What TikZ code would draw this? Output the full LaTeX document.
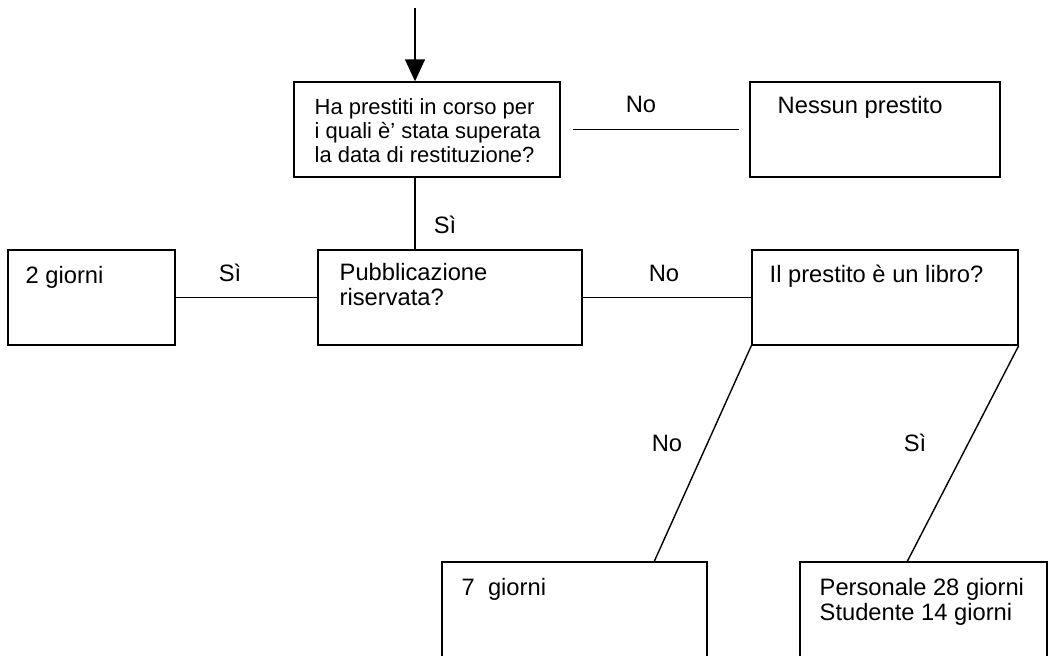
\documentclass[tikz,border=0pt]{standalone}
\usepackage{fontspec}
\setmainfont{Liberation Sans}
\usepackage{tikz}
\usetikzlibrary{arrows.meta, positioning, calc}
\tikzset{
    % Node styles - plain boxes, text top left
    choicebox/.style={
        rectangle,
        draw=black,
        line width=0.8pt,
        inner sep=0pt
    },
    boxtext/.style={
        anchor=north west,
        inner sep=0pt,
        align=left,
        font=\fontsize{13.5}{14.2}\selectfont
    },
    smalltext/.style={
        anchor=north west,
        inner sep=0pt,
        align=left,
        font=\fontsize{12.5}{13.6}\selectfont
    },
    answer/.style={
        inner sep=0pt,
        font=\fontsize{13.5}{14.2}\selectfont
    },
    % Connector styles
    myline/.style={
        draw=black,
        line width=0.8pt
    },
    myarrow/.style={
        -{Triangle[width=0.4cm,length=0.44cm]},
        line width=0.8pt
    }
}

\begin{document}
\begin{tikzpicture}[x=0.02cm, y=-0.02cm]
    \useasboundingbox (0,0) rectangle (1053,655);
    \clip (0,0) rectangle (1053,655);

    % Boxes
    \node[choicebox, minimum width=5.32cm, minimum height=1.9cm] (overdue) at (427,129.5) {};
    \node[choicebox, minimum width=5.0cm, minimum height=1.9cm] (noloan) at (875,129.5) {};
    \node[choicebox, minimum width=3.34cm, minimum height=1.9cm] (twodays) at (91.5,297.5) {};
    \node[choicebox, minimum width=5.28cm, minimum height=1.9cm] (reserved) at (450,297.5) {};
    \node[choicebox, minimum width=5.32cm, minimum height=1.9cm] (isbook) at (885,297.5) {};
    \node[choicebox, minimum width=5.3cm, minimum height=2.36cm] (sevendays) at (574.5,621) {};
    \node[choicebox, minimum width=4.94cm, minimum height=2.36cm] (bookdays) at (923.5,621) {};

    % Box texts
    \node[smalltext] (overduetxt) at ([shift={(21,17)}]overdue.north west)
        {Ha prestiti in corso per\\i quali è’ stata superata\\la data di restituzione?};
    \node[boxtext] (noloantxt) at ([shift={(28,15)}]noloan.north west) {Nessun prestito};
    \node[boxtext] (twodaystxt) at ([shift={(18,17)}]twodays.north west) {2 giorni};
    \node[boxtext] (reservedtxt) at ([shift={(22,14)}]reserved.north west) {Pubblicazione\\riservata?};
    \node[boxtext] (isbooktxt) at ([shift={(18,15)}]isbook.north west) {Il prestito è un libro?};
    \node[boxtext] (sevendaystxt) at ([shift={(20,17)}]sevendays.north west) {7\ \ giorni};
    \node[boxtext] (bookdaystxt) at ([shift={(20,17)}]bookdays.north west) {Personale 28 giorni\\Studente 14 giorni};

    % Connectors
    \coordinate (start) at (415,8);
    \draw[myarrow] (start) -- (start |- overdue.north);
    \draw[myline] (start |- overdue.south) -- (start |- reserved.north);
    \draw[myline, shorten <=0.24cm, shorten >=0.2cm] (overdue.east) -- (noloan.west);
    \draw[myline] (reserved.west) -- (twodays.east);
    \draw[myline] (reserved.east) -- (isbook.west);
    \draw[myline] (isbook.south west) -- ([xshift=4.26cm]sevendays.north west);
    \draw[myline] (isbook.south east) -- ([xshift=2.16cm]bookdays.north west);

    % Answers
    \node[answer] (ansno1) at (641,104) {No};
    \node[answer] (anssi1) at (445,225) {Sì};
    \node[answer] (anssi2) at (230,273) {Sì};
    \node[answer] (ansno2) at (664,273) {No};
    \node[answer] (ansno3) at (667,443) {No};
    \node[answer] (anssi3) at (915,443) {Sì};
\end{tikzpicture}
\end{document}
